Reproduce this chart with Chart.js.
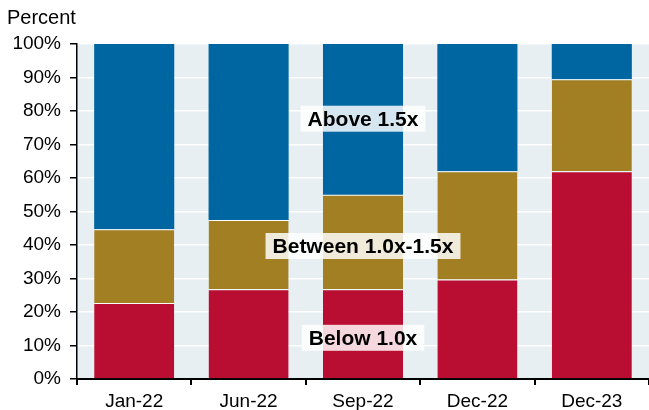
<!DOCTYPE html>
<html>
<head>
<meta charset="utf-8">
<script src="https://cdn.jsdelivr.net/npm/chart.js@4.4.0/dist/chart.umd.min.js"></script>
<style>
  html, body { margin: 0; padding: 0; background: #fff; overflow: hidden; }
  #wrap { width: 649px; height: 410px; position: relative; }
</style>
</head>
<body>
<div id="wrap"><canvas id="myChart"></canvas></div>
<script>
const categories = ['Jan-22', 'Jun-22', 'Sep-22', 'Dec-22', 'Dec-23'];
const below = [22.7, 26.8, 26.8, 29.7, 62.0];
const between = [22.0, 20.7, 28.2, 32.3, 27.5];
const above = [55.3, 52.5, 45.0, 38.0, 10.5];

// text boxes inside the plot: label and y value (all over the Sep-22 bar)
const boxLabels = ['Above 1.5x', 'Between 1.0x-1.5x', 'Below 1.0x'];
const boxValues = [77.7, 39.7, 12.3];

const font = "'Liberation Sans', Arial, sans-serif";
Chart.defaults.font.family = font;
Chart.defaults.color = '#000';

const ctx = document.getElementById('myChart').getContext('2d');

const plotBg = {
  id: 'plotBg',
  beforeDraw(chart) {
    const a = chart.chartArea;
    const c = chart.ctx;
    c.save();
    c.fillStyle = '#e7eff3';
    c.fillRect(a.left, a.top, a.right - a.left, a.bottom - a.top);
    c.restore();
  }
};

const overlay = {
  id: 'overlay',
  afterDatasetsDraw(chart) {
    const c = chart.ctx;
    const xs = chart.scales.x, ys = chart.scales.y;
    c.save();
    c.font = 'bold 21px ' + font;
    c.textAlign = 'center';
    c.textBaseline = 'middle';
    boxLabels.forEach((t, i) => {
      const x = xs.getPixelForValue(2);
      const y = ys.getPixelForValue(boxValues[i]);
      const w = c.measureText(t).width + 14;
      c.fillStyle = 'rgba(255,255,255,0.84)';
      c.fillRect(x - w / 2, y - 13, w, 26);
      c.fillStyle = '#000';
      c.fillText(t, x, y + 1);
    });
    // axis unit
    c.font = '20px ' + font;
    c.textAlign = 'left';
    c.fillText('Percent', 7, 18);
    c.restore();
  }
};

const chart = new Chart(ctx, {
  type: 'bar',
  data: {
    labels: categories,
    datasets: [
      { label: 'Below 1.0x', data: below, backgroundColor: '#b90e31', borderColor: '#ffffff', borderWidth: { top: 1 }, borderSkipped: 'bottom' },
      { label: 'Between 1.0x-1.5x', data: between, backgroundColor: '#a37f24', borderColor: '#ffffff', borderWidth: { top: 1 }, borderSkipped: 'bottom' },
      { label: 'Above 1.5x', data: above, backgroundColor: '#0066a1', borderWidth: 0 }
    ]
  },
  options: {
    responsive: true,
    maintainAspectRatio: false,
    animation: false,
    barPercentage: 0.7,
    categoryPercentage: 1.0,
    layout: { padding: { top: 44, right: 0, left: 0, bottom: 0 } },
    plugins: { legend: { display: false }, tooltip: { enabled: false } },
    scales: {
      x: {
        stacked: true,
        afterFit(s) { s.height = 31; },
        grid: { offset: true, drawOnChartArea: false, drawTicks: true, tickLength: 6, color: '#000', lineWidth: 2 },
        border: { color: '#000', width: 2 },
        ticks: { font: { size: 19 }, color: '#000', padding: 5 }
      },
      y: {
        stacked: true,
        min: 0,
        max: 100,
        afterFit(s) { s.width = 77; },
        ticks: { stepSize: 10, font: { size: 19 }, color: '#000', padding: 9, callback: v => v + '%' },
        grid: { color: '#ffffff', lineWidth: 1.5, drawTicks: true, tickLength: 7, tickColor: '#000', tickWidth: 1.5 },
        border: { display: true, color: '#000', width: 1.5 }
      }
    }
  },
  plugins: [plotBg, overlay]
});
</script>
</body>
</html>
